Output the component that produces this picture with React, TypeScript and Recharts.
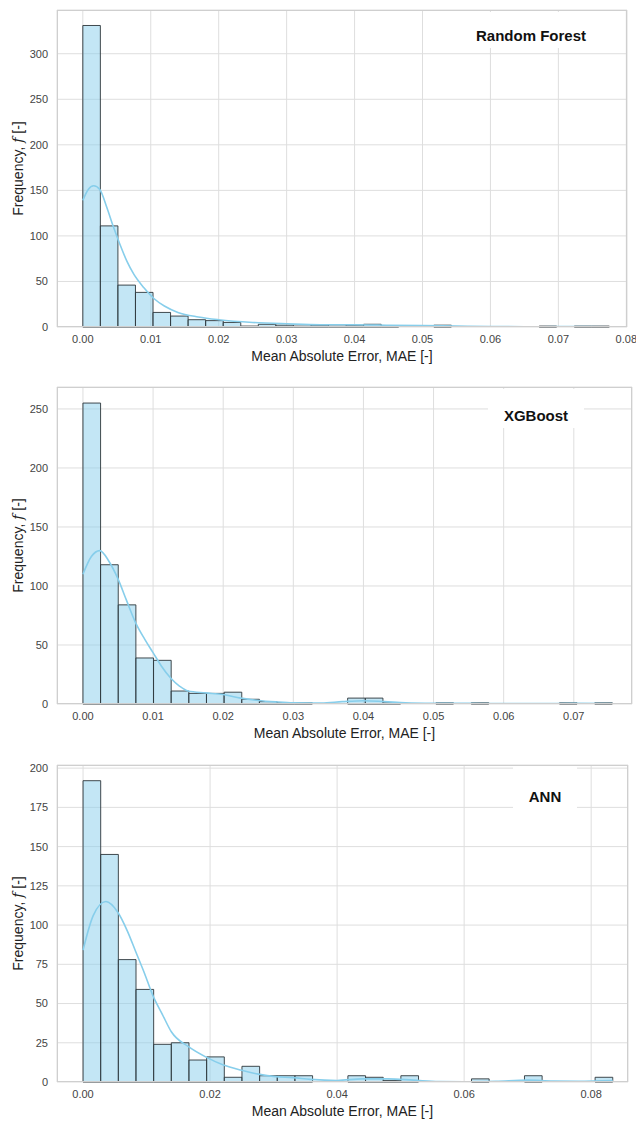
import { ComposedChart, Line, XAxis, YAxis, CartesianGrid, ReferenceArea, Label } from 'recharts'

// histogram counts per bin (30 equal bins from 0 to the largest error)
const rfCounts = [331, 111, 46, 38, 16, 12, 8, 7, 5, 1, 3, 2, 1, 2, 1, 2, 3, 1, 0, 0, 2, 0, 0, 0, 0, 0, 1, 0, 1, 1]
const xgbCounts = [255, 118, 84, 39, 37, 11, 9, 9, 10, 4, 2, 1, 1, 0, 0, 5, 5, 1, 0, 0, 1, 0, 1, 0, 0, 0, 0, 1, 0, 1]
const annCounts = [192, 145, 78, 59, 24, 25, 14, 16, 3, 10, 4, 4, 4, 0, 0, 4, 3, 1, 4, 0, 0, 0, 2, 0, 0, 4, 0, 0, 0, 3]

const rfMaxError = 0.0775
const xgbMaxError = 0.0755
const annMaxError = 0.0834

// kernel density estimate, scaled to counts
const rfKdeX = [0, 0.0008, 0.0016, 0.0025, 0.0035, 0.0045, 0.0055, 0.0065, 0.0075, 0.009, 0.0105, 0.012, 0.014, 0.017, 0.02, 0.025, 0.03, 0.035, 0.04, 0.045, 0.05, 0.055, 0.06, 0.065, 0.07, 0.0775]
const rfKdeY = [139, 151, 155, 151, 132, 110, 90, 72, 58, 43, 31, 23, 16, 11, 8, 5, 3.5, 2.5, 2.5, 2, 1.5, 1, 0.5, 0.3, 0.4, 0.3]

const xgbKdeX = [0, 0.0012, 0.0024, 0.0037, 0.005, 0.0062, 0.0075, 0.0088, 0.01, 0.0112, 0.0125, 0.0138, 0.015, 0.0175, 0.02, 0.0225, 0.025, 0.0275, 0.03, 0.034, 0.037, 0.04, 0.043, 0.046, 0.05, 0.055, 0.06, 0.065, 0.07, 0.0755]
const xgbKdeY = [110, 125, 130, 121, 106, 88, 69, 55, 43.5, 32, 22, 15, 11, 9.4, 8, 5, 3, 1.8, 1, 0.8, 2, 2.8, 2, 1, 0.6, 0.5, 0.3, 0.3, 0.5, 0.4]

const annKdeX = [0, 0.0016, 0.0036, 0.0055, 0.007, 0.0083, 0.0097, 0.011, 0.0125, 0.0139, 0.0166, 0.0193, 0.022, 0.0248, 0.0276, 0.0303, 0.033, 0.0358, 0.04, 0.044, 0.048, 0.052, 0.056, 0.06, 0.065, 0.07, 0.074, 0.078, 0.0834]
const annKdeY = [84, 106, 115, 108, 96, 83, 69, 55, 43, 32, 22.5, 16, 11, 7.6, 5, 3.4, 2.8, 1.7, 1, 2, 2, 1.2, 0.3, 0.2, 0.5, 1.2, 0.6, 0.5, 1]

const rfXTicks = [0, 0.01, 0.02, 0.03, 0.04, 0.05, 0.06, 0.07, 0.08]
const xgbXTicks = [0, 0.01, 0.02, 0.03, 0.04, 0.05, 0.06, 0.07]
const annXTicks = [0, 0.02, 0.04, 0.06, 0.08]

const rfYTicks = [0, 50, 100, 150, 200, 250, 300]
const xgbYTicks = [0, 50, 100, 150, 200, 250]
const annYTicks = [0, 25, 50, 75, 100, 125, 150, 175, 200]

const FONT = '"Liberation Sans", Arial, sans-serif'
const CHART_W = 636
const CHART_H = 365
const PLOT_LEFT = 57
const PLOT_TOP = 10
const PLOT_H = 317

interface PanelProps {
  top: number
  title: string
  titleBox: { left: number; top: number; width: number; height: number }
  counts: number[]
  maxError: number
  kdeX: number[]
  kdeY: number[]
  xTicks: number[]
  yTicks: number[]
  xDomain: [number, number]
  yMax: number
  plotRight: number
}

function Panel({ top, title, titleBox, counts, maxError, kdeX, kdeY, xTicks, yTicks, xDomain, yMax, plotRight }: PanelProps) {
  const binWidth = maxError / counts.length
  const bins = counts
    .map((c, i) => ({ x1: i * binWidth, x2: (i + 1) * binWidth, count: c }))
    .filter((b) => b.count > 0)
  const kde = kdeX.map((x, i) => ({ x, y: kdeY[i] }))
  const midY = PLOT_TOP + PLOT_H / 2

  return (
    <div style={{ position: 'absolute', left: 0, top, width: CHART_W, height: CHART_H }}>
      <ComposedChart
        width={CHART_W}
        height={CHART_H}
        data={kde}
        margin={{ top: PLOT_TOP, right: CHART_W - plotRight, bottom: 0, left: 0 }}
      >
        <CartesianGrid stroke="#dedede" strokeWidth={1} />
        <XAxis
          type="number"
          dataKey="x"
          domain={xDomain}
          ticks={xTicks}
          allowDataOverflow
          tickFormatter={(v: number) => v.toFixed(2)}
          tickLine={false}
          axisLine={false}
          tickSize={0}
          tickMargin={8}
          height={38}
          tick={{ fontSize: 11, fill: '#444' }}
        >
          <Label value="Mean Absolute Error, MAE [-]" position="insideBottom" offset={4} style={{ fontSize: 14, fill: '#222' }} />
        </XAxis>
        <YAxis
          type="number"
          domain={[0, yMax]}
          ticks={yTicks}
          allowDataOverflow
          tickLine={false}
          axisLine={false}
          tickSize={0}
          tickMargin={9}
          width={PLOT_LEFT}
          tick={{ fontSize: 11, fill: '#444' }}
        >
          <Label
            content={() => (
              <text
                x={18}
                y={midY}
                transform={`rotate(-90, 18, ${midY})`}
                textAnchor="middle"
                dominantBaseline="central"
                style={{ fontSize: 14, fill: '#222' }}
              >
                Frequency, <tspan fontStyle="italic" fontFamily="'DejaVu Serif', serif">f</tspan> [-]
              </text>
            )}
          />
        </YAxis>
        {bins.map((b, i) => (
          <ReferenceArea
            key={i}
            x1={b.x1}
            x2={b.x2}
            y1={0}
            y2={b.count}
            fill="#87ceeb"
            fillOpacity={0.5}
            stroke="#2e363b"
            strokeOpacity={0.9}
            strokeWidth={1}
            ifOverflow="visible"
          />
        ))}
        <Line
          type="monotone"
          dataKey="y"
          stroke="#87ceeb"
          strokeWidth={1.6}
          dot={false}
          activeDot={false}
          isAnimationActive={false}
        />
      </ComposedChart>
      <div
        style={{
          position: 'absolute',
          left: PLOT_LEFT,
          top: PLOT_TOP,
          width: plotRight - PLOT_LEFT,
          height: PLOT_H,
          border: '1px solid #cfcfcf',
          boxSizing: 'border-box',
          pointerEvents: 'none',
        }}
      />
      <div
        style={{
          position: 'absolute',
          left: titleBox.left,
          top: titleBox.top,
          width: titleBox.width,
          height: titleBox.height,
          background: '#fff',
          display: 'flex',
          alignItems: 'flex-end',
          justifyContent: 'center',
          paddingBottom: 4,
          boxSizing: 'border-box',
          fontWeight: 'bold',
          fontSize: 15,
          color: '#111',
        }}
      >
        {title}
      </div>
    </div>
  )
}

export default function App() {
  return (
    <div style={{ position: 'absolute', left: 0, top: 0, width: 636, height: 1125, background: '#fff', fontFamily: FONT }}>
      <Panel
        top={0}
        title="Random Forest"
        titleBox={{ left: 464, top: 12, width: 134, height: 36 }}
        counts={rfCounts}
        maxError={rfMaxError}
        kdeX={rfKdeX}
        kdeY={rfKdeY}
        xTicks={rfXTicks}
        yTicks={rfYTicks}
        xDomain={[-0.0038, 0.0801]}
        yMax={348}
        plotRight={627}
      />
      <Panel
        top={377}
        title="XGBoost"
        titleBox={{ left: 488, top: 12, width: 96, height: 39 }}
        counts={xgbCounts}
        maxError={xgbMaxError}
        kdeX={xgbKdeX}
        kdeY={xgbKdeY}
        xTicks={xgbXTicks}
        yTicks={xgbYTicks}
        xDomain={[-0.0037, 0.0783]}
        yMax={268.6}
        plotRight={632}
      />
      <Panel
        top={755}
        title="ANN"
        titleBox={{ left: 513, top: 12, width: 64, height: 42 }}
        counts={annCounts}
        maxError={annMaxError}
        kdeX={annKdeX}
        kdeY={annKdeY}
        xTicks={annXTicks}
        yTicks={annYTicks}
        xDomain={[-0.0041, 0.0858]}
        yMax={202}
        plotRight={628}
      />
    </div>
  )
}
